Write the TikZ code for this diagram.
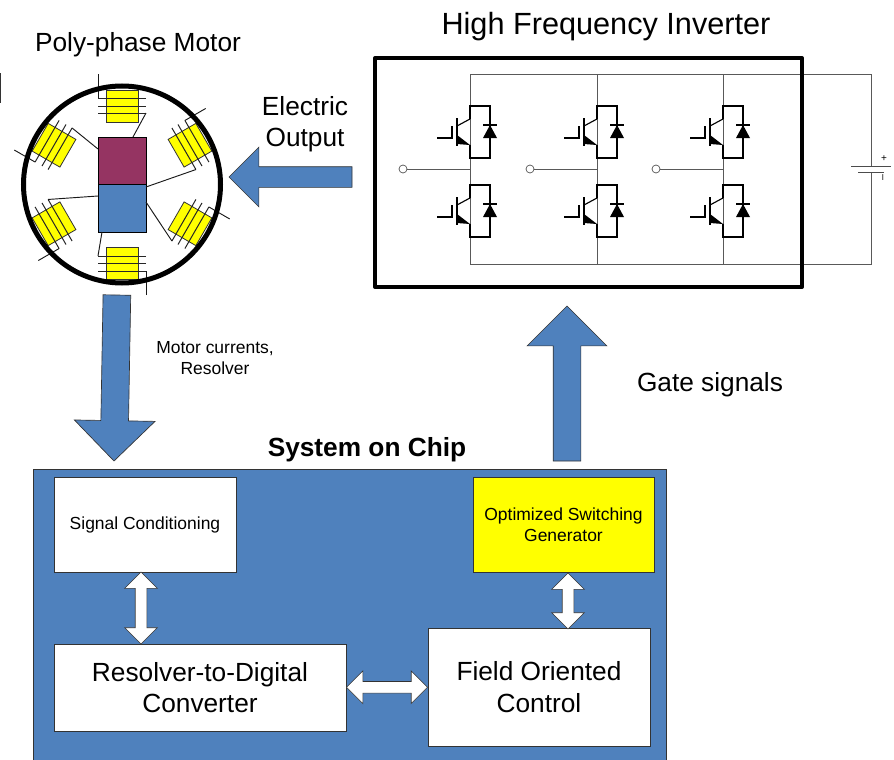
\documentclass[tikz,border=0pt]{standalone}
\usepackage{fontspec}
\setmainfont{Liberation Sans}
\usetikzlibrary{shapes.arrows, calc}

\def\px{0.75pt}
\newcommand{\bigfont}{\fontsize{19.7}{23.5}\selectfont}
\newcommand{\hugefont}{\fontsize{23}{27}\selectfont}
\newcommand{\smallfont}{\fontsize{13.1}{15.7}\selectfont}

\definecolor{socblue}{HTML}{4F81BD}
\definecolor{polered}{HTML}{953462}
\definecolor{coilyellow}{RGB}{255,255,0}

\begin{document}
\begin{tikzpicture}[x=0.75pt, y=-0.75pt, node distance=0pt]
    \tikzstyle{block} = [rectangle, inner sep=0pt, text centered, align=center, draw=black!80, line width=0.5pt, fill=white]
    \tikzstyle{label} = [inner sep=0pt, align=center]
    \tikzstyle{bigarrow} = [single arrow, single arrow tip angle=90, inner xsep=0pt, outer sep=0pt, fill=socblue, draw=black!80, line width=0.5pt, anchor=tip]
    \tikzstyle{linkarrow} = [double arrow, double arrow tip angle=90, double arrow head extend=10.5*\px, inner xsep=0pt, inner ysep=5.5*\px, outer sep=0pt, fill=white, draw=black!80, line width=0.5pt]
    \tikzstyle{coilbox} = [rectangle, inner sep=0pt, transform shape, minimum width=32*\px, minimum height=32*\px, fill=coilyellow, draw=black!80, line width=0.6pt]
    \tikzstyle{pole} = [rectangle, inner sep=0pt, minimum width=48*\px, minimum height=47.5*\px, draw=black, line width=0.6pt]
    \tikzstyle{wire} = [black!65, line width=0.7pt]
    \tikzstyle{part} = [black, line width=0.85pt]
    \tikzstyle{port} = [circle, inner sep=0pt, minimum size=8*\px, draw=black!70, line width=0.5pt, fill=white]

    \clip (0,0) rectangle (894,760);

    % system on chip
    \node (soc) [block, fill=socblue, minimum width=633*\px, minimum height=295*\px] at (349.5,616.5) {};
    \node (cond) [block, font=\smallfont, minimum width=182*\px, minimum height=95*\px, below of=soc, xshift=-204.5*\px, yshift=92*\px] {Signal Conditioning};
    \node (rdc) [block, font=\bigfont, minimum width=292*\px, minimum height=87*\px, below of=cond, xshift=55*\px, yshift=-163*\px] {Resolver-to-Digital\\Converter};
    \node (foc) [block, font=\bigfont, minimum width=222*\px, minimum height=118*\px, right of=rdc, xshift=339*\px, yshift=0.5*\px] {Field Oriented\\Control};
    \node (osg) [block, font=\smallfont, fill=coilyellow, minimum width=181*\px, minimum height=95*\px, above of=foc, xshift=24.5*\px, yshift=162.5*\px] {Optimized Switching\\Generator};

    \node (link1) [linkarrow, rotate=90, minimum height=72*\px] at (141,608) {};
    \node (link2) [linkarrow, minimum height=81*\px] at ($(rdc.east)!0.5!(foc.west)$) {};
    \node (link3) [linkarrow, rotate=90, minimum height=56*\px] at (568,601) {};

    % block arrows
    \node (outarrow) [bigarrow, rotate=180, minimum height=123*\px, inner ysep=10*\px, single arrow head extend=19.5*\px] at (229,177) {};
    \node (sensearrow) [bigarrow, rotate=-91, minimum height=166*\px, inner ysep=13.5*\px, single arrow head extend=26.5*\px] at (114,461) {};
    \node (gatearrow) [bigarrow, rotate=90, minimum height=155*\px, inner ysep=13.5*\px, single arrow head extend=26*\px] at (567,306) {};

    % motor
    \node (north) [pole, fill=polered] at (122,161) {};
    \node (south) [pole, fill=socblue] at (122,208.5) {};
    \foreach \ang/\n/\ex/\ey in {0/a/133/137, 60/b/146/187, 120/c/146/202, 180/d/102/232, 240/e/98/196, 300/f/98/149} {
        \begin{scope}[rotate around={-\ang:(122,184.5)}]
            \node (coil\n) [coilbox] at (122,106) {};
            \foreach \y in {98,106,113} {
                \draw [black!85, line width=0.75pt] (98,\y) -- (146,\y);
            }
            \coordinate (lead\n) at (146,113);
            \coordinate (turn\n) at (98,98);
            \coordinate (stub\n) at (98,74);
        \end{scope}
        \draw [black!90, line width=0.7pt] (stub\n) -- (turn\n);
        \draw [black!90, line width=0.7pt] (lead\n) -- (\ex,\ey);
    }
    \node (ring) [circle, inner sep=0pt, minimum size=197*\px, draw=black, line width=3.75pt] at (122,184.5) {};
    \coordinate (marka) at (0.5,73);
    \coordinate (markb) at (0.5,103);
    \draw [black!80, line width=1pt] (marka) -- (markb);

    % inverter
    \coordinate (railtl) at (470,74);
    \coordinate (railtr) at (871,74);
    \coordinate (railbl) at (470,264);
    \coordinate (railbr) at (871,264);
    \coordinate (batt) at (871,166);
    \coordinate (batb) at (871,172);
    \draw [wire] (railtl) -- (railtr) -- (batt);
    \draw [wire] (railbl) -- (railbr) -- (batb);
    \draw [black!70, line width=0.7pt] (851,166) -- (891,166);
    \draw [black!70, line width=0.7pt] (858,172) -- (884,172);
    \node (plus) [label] at (884,159) {\fontsize{7.5}{9}\selectfont +};
    \node (minus) [label, rotate=90] at (884,178) {\fontsize{8}{9}\selectfont –};

    \foreach \i/\x in {1/470, 2/597, 3/723} {
        \draw [wire] (\x,74) -- (\x,264);
        \node (port\i) [port] at (\x-67,169) {};
        \coordinate (mid\i) at (\x,169);
        \draw [wire] (port\i) -- (mid\i);
        \foreach \m in {0,79} {
            \begin{scope}[shift={(\x,\m)}]
                \draw [part] (0,119) -- (-13,126);
                \draw [part] (-13,118) -- (-13,146);
                \draw [part] (-33,138) -- (-18,138) -- (-18,126);
                \draw [part] (0,119) -- (0,106) -- (20,106) -- (20,158) -- (0,158) -- (0,145);
                \fill (-13,135) -- (-13,144) -- (0,145) -- cycle;
                \fill (20,125) -- (13,138) -- (27,138) -- cycle;
                \draw [part] (13,125) -- (27,125);
            \end{scope}
        }
    }
    \node (inv) [rectangle, inner sep=0pt, minimum width=427*\px, minimum height=229*\px, draw=black, line width=3pt, line join=round] at (588.5,172.5) {};

    % labels
    \node (invlabel) [label, font=\hugefont] at (606,26.5) {High Frequency Inverter};
    \node (motorlabel) [label, font=\bigfont] at (138,45) {Poly-phase Motor};
    \node (outlabel) [label, font=\bigfont] at (305,124) {Electric\\Output};
    \node (senselabel) [label, font=\smallfont] at (215,358) {Motor currents,\\Resolver};
    \node (gatelabel) [label, font=\bigfont] at (710,384.5) {Gate signals};
    \node (soclabel) [label, font=\bigfont\bfseries] at (367,449.5) {System on Chip};
\end{tikzpicture}
\end{document}
